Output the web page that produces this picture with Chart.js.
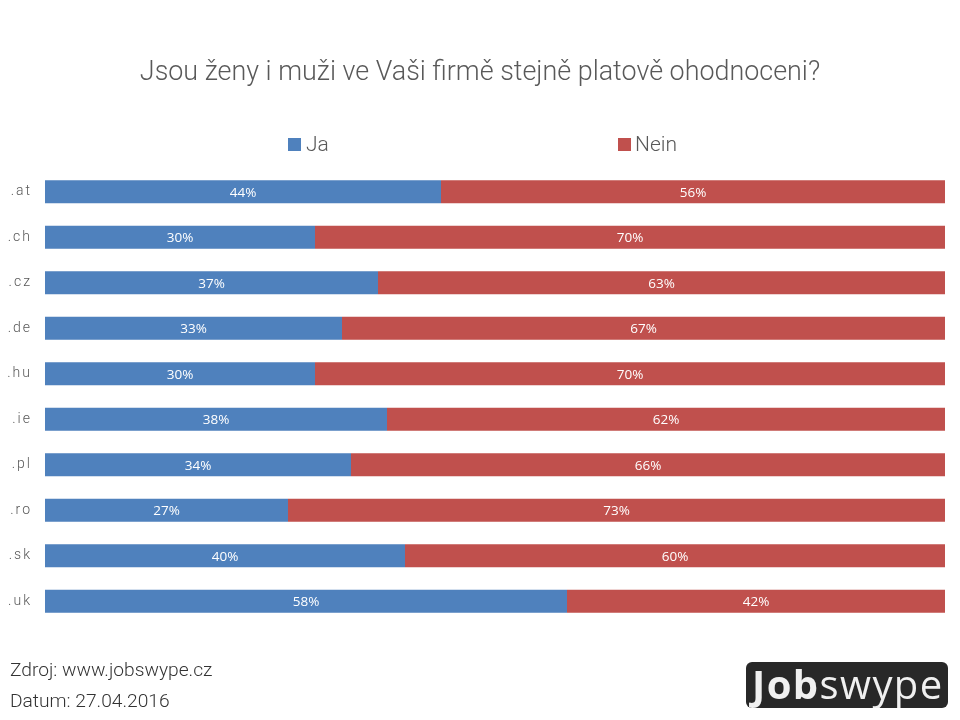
<!DOCTYPE html>
<html>
<head>
<meta charset="utf-8">
<title>Jobswype</title>
<script src="https://cdn.jsdelivr.net/npm/chart.js@4"></script>
<style>
    html, body { margin: 0; padding: 0; background: #fff; }
    #wrap { position: relative; width: 960px; height: 720px; overflow: hidden; font-family: Roboto, sans-serif; font-weight: 300; }
    #wrap canvas { position: absolute; left: 0; top: 0; }
    .txt { position: absolute; white-space: nowrap; line-height: 1; }
    #title { left: 0; width: 960px; top: 58px; text-align: center; font-size: 26.9px; color: #595959; }
    .legend-box { position: absolute; top: 138px; width: 13px; height: 13px; }
    .legend-text { top: 134px; font-size: 21px; color: #595959; }
    .source { left: 10px; font-size: 19.2px; color: #333; }
    #logo { position: absolute; left: 746px; top: 662px; width: 202px; height: 46px; background: #282828; border-radius: 6px; overflow: hidden; }
    #logo span { position: absolute; left: 6px; top: -3px; font-family: "Open Sans", sans-serif; font-size: 40px; line-height: 50px; color: #f0f0f0; white-space: nowrap; letter-spacing: 1.4px; }
    #logo b { font-weight: 700; }
    #logo i { font-style: normal; font-weight: 400; }
</style>
</head>
<body>
<div id="wrap">
    <canvas id="chart" width="960" height="720"></canvas>
    <div class="txt" id="title">Jsou ženy i muži ve Vaši firmě stejně platově ohodnoceni?</div>
    <div class="legend-box" style="left:288px;background:#4f81bd"></div>
    <div class="txt legend-text" style="left:306px">Ja</div>
    <div class="legend-box" style="left:618px;background:#c0504d"></div>
    <div class="txt legend-text" style="left:635px">Nein</div>
    <div class="txt source" style="top:660px">Zdroj: www.jobswype.cz</div>
    <div class="txt source" style="top:691px">Datum: 27.04.2016</div>
    <div id="logo"><span><b>Job</b><i>swype</i></span></div>
</div>
<script>
const categories = ['.at', '.ch', '.cz', '.de', '.hu', '.ie', '.pl', '.ro', '.sk', '.uk'];
const jaValues = [44, 30, 37, 33, 30, 38, 34, 27, 40, 58];
const neinValues = [56, 70, 63, 67, 70, 62, 66, 73, 60, 42];

const barLabels = {
    id: 'barLabels',
    afterDatasetsDraw(chart) {
        const ctx = chart.ctx;
        ctx.save();
        ctx.font = '13.5px "Open Sans"';
        ctx.fillStyle = '#fff';
        ctx.textAlign = 'center';
        ctx.textBaseline = 'middle';
        chart.data.datasets.forEach((ds, i) => {
            chart.getDatasetMeta(i).data.forEach((bar, j) => {
                ctx.fillText(ds.data[j] + '%', (bar.x + bar.base) / 2, bar.y + 1);
            });
        });
        ctx.restore();
    }
};

// tick labels in the original are spaced out
const spacedTicks = {
    id: 'spacedTicks',
    beforeDraw(chart) { chart.ctx.letterSpacing = '2px'; },
    beforeDatasetsDraw(chart) { chart.ctx.letterSpacing = '0px'; }
};

new Chart(document.getElementById('chart').getContext('2d'), {
    type: 'bar',
    data: {
        labels: categories,
        datasets: [
            { label: 'Ja', data: jaValues, backgroundColor: '#4f81bd' },
            { label: 'Nein', data: neinValues, backgroundColor: '#c0504d' }
        ]
    },
    options: {
        indexAxis: 'y',
        responsive: false,
        animation: false,
        barPercentage: 0.506,
        categoryPercentage: 1,
        layout: { padding: { left: 0, right: 15, top: 169, bottom: 96 } },
        plugins: {
            legend: { display: false },
            title: { display: false },
            tooltip: { enabled: false }
        },
        scales: {
            x: {
                stacked: true,
                display: false,
                min: 0,
                max: 100
            },
            y: {
                stacked: true,
                afterFit(scale) { scale.width = 45; },
                grid: { display: false, drawBorder: false },
                border: { display: false },
                ticks: {
                    color: '#595959',
                    padding: 5,
                    font: { family: 'Roboto', size: 14, weight: '300' }
                }
            }
        }
    },
    plugins: [barLabels, spacedTicks]
});
</script>
</body>
</html>
